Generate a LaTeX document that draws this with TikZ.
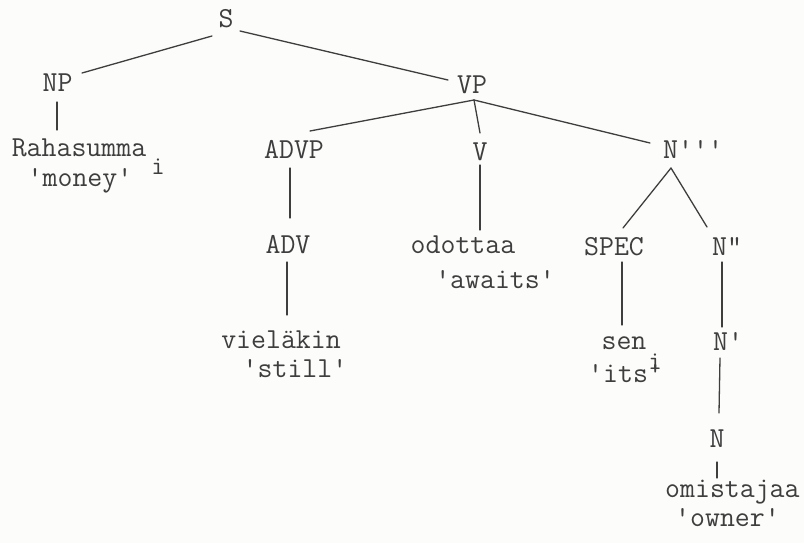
\documentclass[tikz,border=0pt]{standalone}
\usepackage{fontspec}
\definecolor{ink}{RGB}{62,62,62}
\definecolor{paper}{RGB}{252,252,250}
\tikzset{
  lbl/.style={font=\ttfamily\fontsize{29}{31}\selectfont, text=ink, inner sep=0pt, anchor=base},
  lblw/.style={lbl, anchor=base west},
  sub/.style={font=\ttfamily\fontsize{26}{28}\selectfont, text=ink, inner sep=0pt, anchor=base},
  branch/.style={draw=ink, line width=1.3pt, line cap=round}
}
\begin{document}
\begin{tikzpicture}[x=1pt,y=-1pt]
\fill[paper] (0,0) rectangle (804,543);
\useasboundingbox (0,0) rectangle (804,543);
% nodes
\node[lbl] (S) at (226,28) {S};
\node[lbl] (NP) at (57.5,92) {NP};
\node[lbl] (VP) at (472,93) {VP};
\node[lbl] (rah) at (79,157) {Rahasumma};
\node[sub] (rahi) at (158,175) {i};
\node[lbl] (money) at (80,186) {'money'};
\node[lbl] (ADVP) at (294,158) {ADVP};
\node[lbl] (V) at (480,160) {V};
\node[lblw] (N3) at (663,158) {N'''};
\node[lbl] (ADV) at (288,253) {ADV};
\node[lbl] (odo) at (463,253) {odottaa};
\node[lbl] (awaits) at (495,288) {'awaits'};
\node[lbl] (SPEC) at (614,255) {SPEC};
\node[lblw] (N2) at (712,255) {N"};
\node[lbl] (viel) at (281,348) {vieläkin};
\node[lbl] (still) at (295,377) {'still'};
\node[lbl] (sen) at (624,349) {sen};
\node[sub] (seni) at (655,369) {i};
\node[lblw] (its) at (588,382) {'its'};
\node[lblw] (N1) at (713,350) {N'};
\node[lbl] (N) at (717,447) {N};
\node[lblw] (omis) at (665,497) {omistajaa};
\node[lblw] (owner) at (675,526) {'owner'};
% branches
\draw[branch] ([shift={(-14,8)}]S.base) -- ([shift={(24.5,-19)}]NP.base);
\draw[branch] ([shift={(14,3)}]S.base) -- ([shift={(-24,-13)}]VP.base);
\draw[branch] ([shift={(-0.5,10)}]NP.base) -- ([shift={(-22,-27)}]rah.base);
\draw[branch] ([shift={(2,7)}]VP.base) -- ([shift={(16,-27)}]ADVP.base);
\draw[branch] ([shift={(2,7)}]VP.base) -- ([shift={(0,-27)}]V.base);
\draw[branch] ([shift={(2,7)}]VP.base) -- ([shift={(-13,-15)}]N3.base west);
\draw[branch] ([shift={(-4,10)}]ADVP.base) -- ([shift={(2,-35)}]ADV.base);
\draw[branch] ([shift={(0,5)}]V.base) -- ([shift={(17,-23)}]odo.base);
\draw[branch] ([shift={(8,10)}]N3.base west) -- ([shift={(9,-27)}]SPEC.base);
\draw[branch] ([shift={(8,10)}]N3.base west) -- ([shift={(-5,-28)}]N2.base west);
\draw[branch] ([shift={(-1,9)}]ADV.base) -- ([shift={(6,-33)}]viel.base);
\draw[branch] ([shift={(8,7)}]SPEC.base) -- ([shift={(-2,-24)}]sen.base);
\draw[branch] ([shift={(10,7)}]N2.base west) -- ([shift={(9,-23)}]N1.base west);
\draw[branch] ([shift={(7,8)}]N1.base west) -- ([shift={(2,-34)}]N.base);
\draw[branch] ([shift={(0,15)}]N.base) -- ([shift={(52,-19)}]omis.base west);
\end{tikzpicture}
\end{document}
